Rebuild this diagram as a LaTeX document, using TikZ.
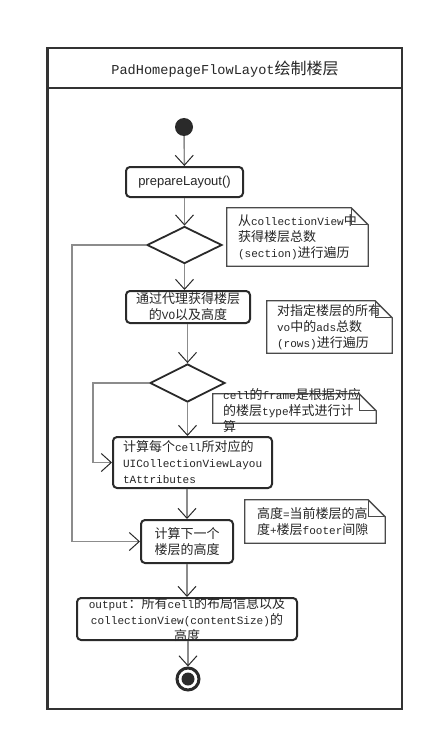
\documentclass[tikz,border=0pt]{standalone}
\usepackage{fontspec}
\setmainfont{Liberation Mono}[Scale=0.85]
\newfontfamily\cjkf{Noto Sans CJK SC}
\newfontfamily\sansf{Liberation Sans}
\usetikzlibrary{arrows.meta,shapes.geometric,calc}
% automatic switch between CJK and Latin fonts
\newXeTeXintercharclass\CJKcls
\newcount\cjkcnt
\cjkcnt="3000
\loop\ifnum\cjkcnt<"3040 \XeTeXcharclass\cjkcnt=\CJKcls\relax \advance\cjkcnt by 1 \repeat
\cjkcnt="4E00
\loop\ifnum\cjkcnt<"A000 \XeTeXcharclass\cjkcnt=\CJKcls\relax \advance\cjkcnt by 1 \repeat
\cjkcnt="FF00
\loop\ifnum\cjkcnt<"FFF0 \XeTeXcharclass\cjkcnt=\CJKcls\relax \advance\cjkcnt by 1 \repeat
\XeTeXinterchartoks 0 \CJKcls = {\cjkf}
\XeTeXinterchartoks 4095 \CJKcls = {\cjkf}
\XeTeXinterchartoks \CJKcls 0 = {\rmfamily}
\XeTeXinterchartoks 4095 0 = {\rmfamily}
\XeTeXinterchartokenstate=1
\definecolor{framec}{HTML}{333333}
\definecolor{boxc}{HTML}{2A2A2A}
\definecolor{connc}{HTML}{8C8C8C}
\definecolor{notec}{HTML}{4A4A4A}
\definecolor{textc}{HTML}{262626}
\newcommand{\bodyfont}{\fontsize{13}{16}\selectfont}
\tikzset{
  framebd/.style={draw=framec, line width=2.5pt},
  actbox/.style={draw=boxc, line width=2pt, rounded corners=4pt, fill=white,
    inner sep=0pt, align=center, font=\bodyfont, text=textc},
  decision/.style={diamond, draw=boxc, line width=1.8pt, fill=white, inner sep=0pt,
    minimum width=75pt, minimum height=37pt},
  notebox/.style={inner ysep=0pt, align=left, font=\bodyfont, text=textc},
  notebd/.style={draw=notec, line width=1.3pt, line join=miter},
  startdot/.style={circle, fill=boxc, minimum size=18pt, inner sep=0pt},
  enddot/.style={circle, draw=boxc, line width=3pt, fill=white, minimum size=22pt,
    inner sep=0pt, path picture={\fill[boxc] (path picture bounding box.center) circle (6.5pt);}},
  flow/.style={draw=connc, line width=1.4pt,
    -{Straight Barb[length=10pt,width=18pt,line width=1pt,color=boxc]}},
}
\newcommand{\dogear}[1]{%
  \draw[notebd] (#1.north west) -- ([xshift=-17pt]#1.north east) -- ([yshift=-17pt]#1.north east)
    -- (#1.south east) -- (#1.south west) -- cycle;
  \draw[notebd] ([xshift=-17pt]#1.north east) -- ([xshift=-17pt,yshift=-17pt]#1.north east)
    -- ([yshift=-17pt]#1.north east);}
\begin{document}
\begin{tikzpicture}[x=1pt,y=-1pt]
\useasboundingbox (0,0) rectangle (434,741);
\fill[white] (0,0) rectangle (434,741);
% frame
\node[framebd, minimum width=354.5pt, minimum height=661pt, inner sep=0pt] (frame) at (224.75,378.5) {};
\draw[framebd] (47.5,88) -- (402,88);
\node[font=\fontsize{16}{18}\selectfont, text=textc, inner sep=0pt] (title) at (225,69) {PadHomepageFlowLayot绘制楼层};
% flow nodes
\node[startdot] (start) at (184,127) {};
\node[actbox, minimum width=117pt, minimum height=30pt,
  font={\XeTeXinterchartokenstate=0 \sansf\fontsize{13}{16}\selectfont}] (b1) at (184.5,182) {prepareLayout()};
\node[decision] (d1) at (184.5,245) {};
\node[actbox, minimum width=124pt, minimum height=32pt] (b2) at (188,307) {通过代理获得楼层\\的VO以及高度};
\node[decision, minimum height=38pt] (d2) at (187.5,383) {};
\node[actbox, minimum width=159pt, minimum height=51pt, text width=139pt, align=left] (b3) at (192.5,462.5)
  {计算每个cell所对应的\\UICollectionViewLayou\\tAttributes};
\node[actbox, minimum width=92pt, minimum height=43pt] (b4) at (187,541.5) {计算下一个\\楼层的高度};
\node[actbox, minimum width=220pt, minimum height=42pt] (b5) at (187,619) {};
\node[inner sep=0pt, align=center, font=\bodyfont, text=textc] (b5t) at (187,619.5)
  {output：所有cell的布局信息以及\\collectionView(contentSize)的\\高度};
\node[enddot] (end) at (188,679) {};
% notes
\node[notebox, inner xsep=11pt, text width=119pt, minimum height=58pt] (n1) at (297.5,237)
  {从collectionView中\\获得楼层总数\\(section)进行遍历};
\dogear{n1}
\node[notebox, inner xsep=10pt, text width=105pt, minimum height=52pt] (n2) at (329.5,327)
  {对指定楼层的所有\\vo中的ads总数\\(rows)进行遍历};
\dogear{n2}
\node[inner sep=0pt, minimum width=163pt, minimum height=29pt] (n3) at (294.5,408.5) {};
\dogear{n3}
\node[notebox, inner xsep=0pt, anchor=west] (n3t) at (223,411)
  {cell的frame是根据对应\\的楼层type样式进行计\\算};
\node[notebox, inner xsep=12pt, text width=116pt, minimum height=43pt] (n4) at (315,521.5)
  {高度=当前楼层的高\\度+楼层footer间隙};
\dogear{n4}
% connectors
\coordinate (l1) at (72,245);
\coordinate (l2) at (93,383);
\draw[flow] (start) -- (b1);
\draw[flow] (b1) -- (d1);
\draw[flow] (d1.south) -- (d1.south |- b2.north);
\draw[flow] (d2.north |- b2.south) -- (d2.north);
\draw[flow] (d2.south) -- (d2.south |- b3.north);
\draw[flow] (b4.north |- b3.south) -- (b4.north);
\draw[flow] (b4.south) -- (b4.south |- b5.north);
\draw[flow] (end.north |- b5.south) -- (end.north);
\draw[flow] (d1.west) -- (l1) |- (b4.west);
\draw[flow] (d2.west) -- (l2) |- (b3.west);
\end{tikzpicture}
\end{document}
